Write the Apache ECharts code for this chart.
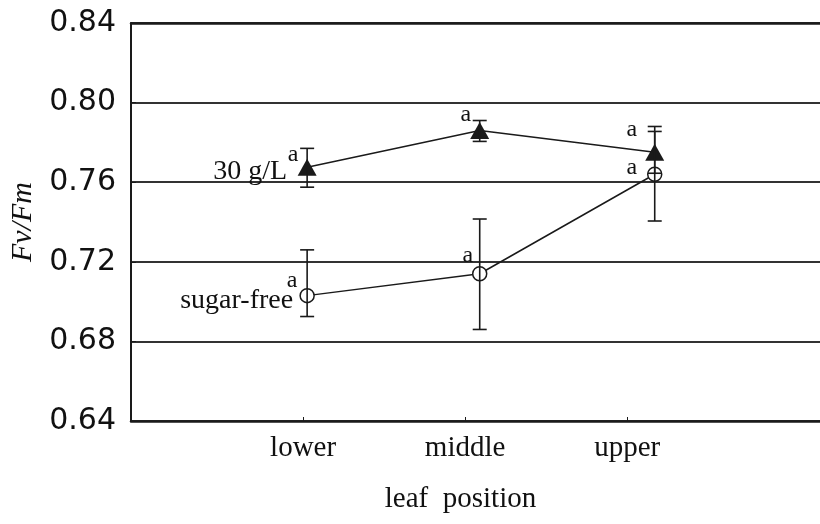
<!DOCTYPE html>
<html>
<head>
<meta charset="utf-8">
<script src="https://cdn.jsdelivr.net/npm/echarts@6/dist/echarts.min.js"></script>
<style>
  html, body { margin: 0; padding: 0; background: #fff; }
  #chart { width: 820px; height: 524px; }
</style>
</head>
<body>
<div id="chart"></div>
<script>
// leaf positions and where the points sit on the x scale (ticks at 1, 2, 3)
var positions = ["lower", "middle", "upper"]
var pointX = [1.025, 2.09, 3.17]

// Fv/Fm means and error bar ends
var mean30 = [0.7675, 0.786, 0.775]
var low30 = [0.7575, 0.7805, 0.7645]
var high30 = [0.777, 0.791, 0.7855]
var letters30 = ["a", "a", "a"]

var meanFree = [0.703, 0.714, 0.764]
var lowFree = [0.6925, 0.686, 0.7405]
var highFree = [0.726, 0.7415, 0.788]
var lettersFree = ["a", "a", "a"]

var yTicks = [0.64, 0.68, 0.72, 0.76, 0.80, 0.84]

var serif = "Liberation Serif"
var ink = "#1a1a1a"

// where the "a" letters sit relative to each point
var offsets30 = [[-14, -13], [-14, -16], [-23, -23]]
var offsetsFree = [[-15, -15], [-12, -18], [-23, -7]]

function lineData(means, letters, offs) {
    return means.map(function (v, i) {
        return {
            value: [pointX[i], v],
            label: { formatter: letters[i], offset: offs[i] }
        }
    })
}

function barData(lows, highs) {
    return lows.map(function (v, i) {
        return [pointX[i], v, highs[i]]
    })
}

function renderBar(params, api) {
    var x = api.value(0)
    var lo = api.coord([x, api.value(1)])
    var hi = api.coord([x, api.value(2)])
    var w = 7
    var style = { stroke: ink, lineWidth: 1.6 }
    return {
        type: "group",
        children: [
            { type: "line", shape: { x1: lo[0], y1: lo[1], x2: hi[0], y2: hi[1] }, style: style },
            { type: "line", shape: { x1: lo[0] - w, y1: lo[1], x2: lo[0] + w, y2: lo[1] }, style: style },
            { type: "line", shape: { x1: hi[0] - w, y1: hi[1], x2: hi[0] + w, y2: hi[1] }, style: style }
        ]
    }
}

var chart = echarts.init(document.getElementById("chart"))

var option = {
    animation: false,
    backgroundColor: "#fff",
    grid: {
        left: 131,
        right: 0,
        top: 23,
        bottom: 103,
        containLabel: false,
        outerBoundsMode: "none"
    },
    xAxis: [
        {
            type: "value",
            min: -0.062,
            max: 4.19,
            splitLine: { show: false },
            axisLine: { show: true, lineStyle: { color: ink, width: 2.5 } },
            axisTick: {
                show: true,
                inside: true,
                length: 4,
                customValues: [1, 2, 3],
                lineStyle: { color: ink }
            },
            axisLabel: {
                customValues: [1, 2, 3],
                formatter: function (v) { return positions[Math.round(v) - 1] },
                fontFamily: serif,
                fontSize: 29,
                color: "#111",
                margin: 13
            },
            name: "leaf  position",
            nameLocation: "middle",
            nameGap: 64,
            nameTextStyle: {
                fontFamily: serif,
                fontSize: 29,
                color: "#111",
                padding: [0, 30, 0, 0]
            }
        },
        {
            type: "value",
            position: "top",
            min: -0.062,
            max: 4.19,
            splitLine: { show: false },
            axisTick: { show: false },
            axisLabel: { show: false },
            axisLine: { show: true, onZero: false, lineStyle: { color: ink, width: 2.5 } }
        }
    ],
    yAxis: {
        type: "value",
        min: yTicks[0],
        max: yTicks[yTicks.length - 1],
        interval: 0.04,
        axisLine: { show: true, onZero: false, lineStyle: { color: ink, width: 2 } },
        axisTick: { show: true, inside: true, length: 5, lineStyle: { color: ink } },
        axisLabel: {
            formatter: function (v) { return v.toFixed(2) },
            fontFamily: "DejaVu Sans",
            fontSize: 30,
            color: "#111",
            margin: 15
        },
        splitLine: { show: true, lineStyle: { color: "#333", width: 2 } },
        name: "Fv/Fm",
        nameLocation: "middle",
        nameGap: 88,
        nameTextStyle: {
            fontFamily: serif,
            fontStyle: "italic",
            fontSize: 30,
            color: "#111"
        }
    },
    series: [
        {
            name: "30 g/L",
            type: "line",
            data: lineData(mean30, letters30, offsets30),
            symbol: "triangle",
            symbolSize: [19, 17],
            itemStyle: { color: ink },
            lineStyle: { color: ink, width: 1.5 },
            label: {
                show: true,
                position: "inside",
                fontFamily: serif,
                fontSize: 24,
                color: "#111"
            },
            z: 3
        },
        {
            name: "sugar-free",
            type: "line",
            data: lineData(meanFree, lettersFree, offsetsFree),
            symbol: "circle",
            symbolSize: 14,
            itemStyle: { color: "#fff", borderColor: ink, borderWidth: 1.5 },
            lineStyle: { color: ink, width: 1.5 },
            label: {
                show: true,
                position: "inside",
                fontFamily: serif,
                fontSize: 24,
                color: "#111"
            },
            z: 3
        },
        {
            type: "custom",
            renderItem: renderBar,
            data: barData(low30, high30),
            z: 4
        },
        {
            type: "custom",
            renderItem: renderBar,
            data: barData(lowFree, highFree),
            z: 4
        },
        {
            // series names written beside the first point
            type: "scatter",
            symbolSize: 0,
            itemStyle: { opacity: 1 },
            data: [
                { value: [pointX[0], mean30[0]], label: { formatter: "30 g/L", distance: 20, offset: [0, 4] } },
                { value: [pointX[0], meanFree[0]], label: { formatter: "sugar-free", distance: 14, offset: [0, 5] } }
            ],
            label: {
                show: true,
                position: "left",
                fontFamily: serif,
                fontSize: 28,
                color: "#111"
            },
            silent: true,
            z: 5
        }
    ]
}

option && chart.setOption(option)
</script>
</body>
</html>
